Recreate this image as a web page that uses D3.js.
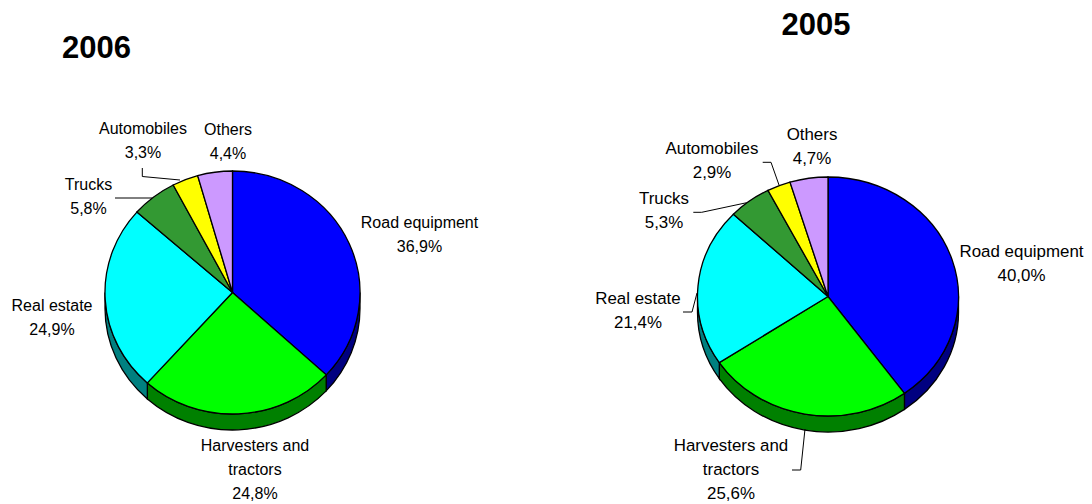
<!DOCTYPE html>
<html>
<head>
<meta charset="utf-8">
<script src="https://cdn.jsdelivr.net/npm/d3@7/dist/d3.min.js"></script>
<style>
html,body{margin:0;padding:0;background:#fff}
svg{display:block}
text{font-family:"Liberation Sans",Arial,sans-serif;fill:#000}
</style>
</head>
<body>
<svg id="chart" width="1092" height="504"></svg>
<script>
const categories = ["Road equipment", "Harvesters and tractors", "Real estate", "Trucks", "Automobiles", "Others"];
const values2006 = [36.9, 24.8, 24.9, 5.8, 3.3, 4.4];
const values2005 = [40.0, 25.6, 21.4, 5.3, 2.9, 4.7];
const topColors = ["#0000ff", "#00ff00", "#00ffff", "#339933", "#ffff00", "#cc99ff"];
const wallColors = ["#000080", "#008000", "#008080", "#1a4d1a", "#808000", "#664d80"];

// Layout of each panel (not data)
const panels = [
  { title: "2006", titleX: 96.5, titleY: 58, values: values2006, cx: 232.5, cy: 292.5, rx: 127.5, ry: 121.5, depth: 16, fontSize: 16,
    labels: [
      {x: 419.5, y: 228, lines: ["Road equipment"]},
      {x: 255, y: 451, lines: ["Harvesters and", "tractors"]},
      {x: 52, y: 311, lines: ["Real estate"]},
      {x: 88.5, y: 190, lines: ["Trucks"]},
      {x: 143, y: 134, lines: ["Automobiles"]},
      {x: 228, y: 135, lines: ["Others"]}
    ],
    leaders: [
      [[115, 198], [152, 198]],
      [[142.3, 168], [142.3, 176.5], [180, 180]]
    ] },
  { title: "2005", titleX: 816, titleY: 35, values: values2005, cx: 828, cy: 296.5, rx: 130.5, ry: 119.5, depth: 16, fontSize: 16.9,
    labels: [
      {x: 1021.5, y: 257, lines: ["Road equipment"]},
      {x: 731, y: 451, lines: ["Harvesters and", "tractors"]},
      {x: 638, y: 304, lines: ["Real estate"]},
      {x: 664, y: 204, lines: ["Trucks"]},
      {x: 712, y: 154, lines: ["Automobiles"]},
      {x: 812, y: 140, lines: ["Others"]}
    ],
    leaders: [
      [[683, 312], [692, 312], [697, 293]],
      [[693.3, 212.3], [701.7, 212.3], [746.7, 202.7]],
      [[762.7, 162.3], [771, 162.3], [779, 185]],
      [[792, 470], [800.7, 470], [805, 429]]
    ] }
];

const svg = d3.select("#chart");
const pie = d3.pie().sort(null).value(d => d);
const arc = d3.arc().innerRadius(0).outerRadius(1);
const fmt = v => v.toFixed(1).replace(".", ",") + "%";
const line = d3.line();
const LH = 24;

function wallPath(a0, a1, dy) {
  const lo = Math.max(a0, Math.PI / 2), hi = Math.min(a1, 3 * Math.PI / 2);
  if (lo >= hi) return null;
  const s = lo - Math.PI / 2, e = hi - Math.PI / 2;
  const p = d3.path();
  p.arc(0, 0, 1, s, e, false);
  p.arc(0, dy, 1, e, s, true);
  p.closePath();
  return p.toString();
}

panels.forEach(panel => {
  const g = svg.append("g");
  g.append("text").attr("x", panel.titleX).attr("y", panel.titleY)
    .attr("text-anchor", "middle").attr("font-size", 31).attr("font-weight", "bold").text(panel.title);

  const arcs = pie(panel.values);
  const disc = g.append("g").attr("transform", `translate(${panel.cx},${panel.cy}) scale(${panel.rx},${panel.ry})`);
  arcs.forEach((a, i) => {
    const w = wallPath(a.startAngle, a.endAngle, panel.depth / panel.ry);
    if (w) disc.append("path").attr("d", w).attr("fill", wallColors[i])
      .attr("stroke", "#000").attr("stroke-width", 1.3).attr("vector-effect", "non-scaling-stroke");
  });
  disc.selectAll("path.top").data(arcs).join("path").attr("class", "top")
    .attr("d", arc).attr("fill", (d, i) => topColors[i])
    .attr("stroke", "#000").attr("stroke-width", 1.3).attr("vector-effect", "non-scaling-stroke");

  panel.leaders.forEach(pts => {
    g.append("path").attr("d", line(pts)).attr("fill", "none").attr("stroke", "#000").attr("stroke-width", 1);
  });

  panel.labels.forEach((l, i) => {
    const t = g.append("text").attr("text-anchor", "middle").attr("font-size", panel.fontSize);
    [...l.lines, fmt(panel.values[i])].forEach((s, k) => {
      t.append("tspan").attr("x", l.x).attr("y", l.y + k * LH).text(s);
    });
  });
});
</script>
</body>
</html>
